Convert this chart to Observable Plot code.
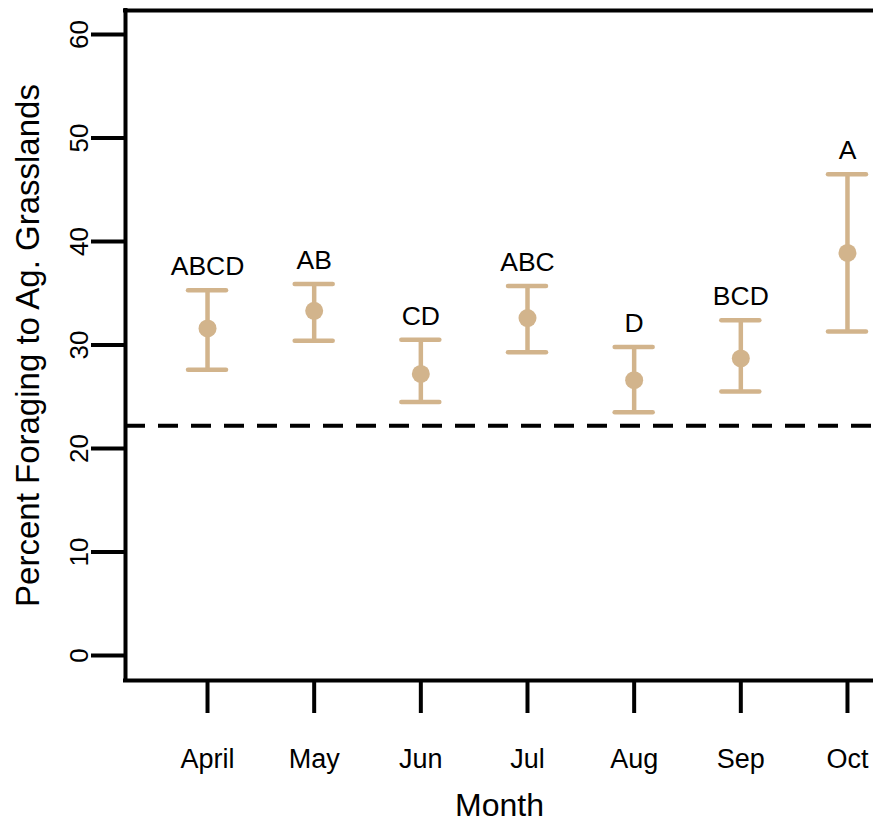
<!DOCTYPE html>
<html>
<head>
<meta charset="utf-8">
<script src="https://cdn.jsdelivr.net/npm/d3@7"></script>
<script src="https://cdn.jsdelivr.net/npm/@observablehq/plot@0.6"></script>
<style>
  html, body { margin: 0; padding: 0; background: #fff; }
  svg { display: block; }
</style>
</head>
<body>
<div id="chart"></div>
<script>
const months = ["April", "May", "Jun", "Jul", "Aug", "Sep", "Oct"];
const means  = [31.6, 33.3, 27.2, 32.6, 26.6, 28.7, 38.9];
const lower  = [27.6, 30.4, 24.5, 29.3, 23.5, 25.5, 31.3];
const upper  = [35.3, 35.9, 30.5, 35.7, 29.8, 32.4, 46.5];
const letters = ["ABCD", "AB", "CD", "ABC", "D", "BCD", "A"];
const referenceLine = 22.2;
const yTicks = [0, 10, 20, 30, 40, 50, 60];

const data = months.map((m, i) => ({
  i: i + 1, month: m, mean: means[i], lo: lower[i], hi: upper[i], letter: letters[i]
}));

const tan = "#D2B48C";
const font = "'Liberation Sans', Arial, Helvetica, sans-serif";
const xDomain = [0.231, 7.244];
const yDomain = [-2.42, 62.32];

const chart = Plot.plot({
  width: 873,
  height: 821,
  marginLeft: 125,
  marginRight: 0,
  marginTop: 10,
  marginBottom: 141,
  style: { fontFamily: font, background: "#fff", color: "black" },
  x: { domain: xDomain, label: null },
  y: { domain: yDomain, label: null },
  marks: [
    Plot.ruleX([xDomain[0]], { stroke: "black", strokeWidth: 4, strokeLinecap: "square" }),
    Plot.ruleY([yDomain[0], yDomain[1]], { stroke: "black", strokeWidth: 4, strokeLinecap: "square" }),
    Plot.ruleY([referenceLine], { stroke: "black", strokeWidth: 4, strokeDasharray: "20,13" }),
    Plot.axisY(yTicks, {
      tickSize: 34, tickPadding: 4, tickRotate: -90, strokeWidth: 4,
      fontSize: 26, label: null
    }),
    Plot.axisX(data.map(d => d.i), {
      tickSize: 33, tickPadding: 35, strokeWidth: 4, fontSize: 27,
      tickFormat: d => months[d - 1], label: null
    }),
    Plot.text(["Month"], { frameAnchor: "bottom", dy: 135, lineAnchor: "bottom", fontSize: 32 }),
    Plot.text(["Percent Foraging to Ag. Grasslands"], {
      frameAnchor: "left", textAnchor: "middle", rotate: -90, dx: -110, lineAnchor: "top", fontSize: 33
    }),
    Plot.ruleX(data, { x: "i", y1: "lo", y2: "hi", stroke: tan, strokeWidth: 4.5 }),
    Plot.ruleY(data, { y: "hi", x1: "i", x2: "i", insetLeft: -19, insetRight: -19, stroke: tan, strokeWidth: 4.5, strokeLinecap: "round" }),
    Plot.ruleY(data, { y: "lo", x1: "i", x2: "i", insetLeft: -19, insetRight: -19, stroke: tan, strokeWidth: 4.5, strokeLinecap: "round" }),
    Plot.dot(data, { x: "i", y: "mean", r: 9, fill: tan, stroke: "none" }),
    Plot.text(data, { x: "i", y: "hi", text: "letter", dy: -15, lineAnchor: "bottom", fontSize: 26.5, fill: "black" })
  ]
});

document.getElementById("chart").appendChild(chart);
</script>
</body>
</html>
